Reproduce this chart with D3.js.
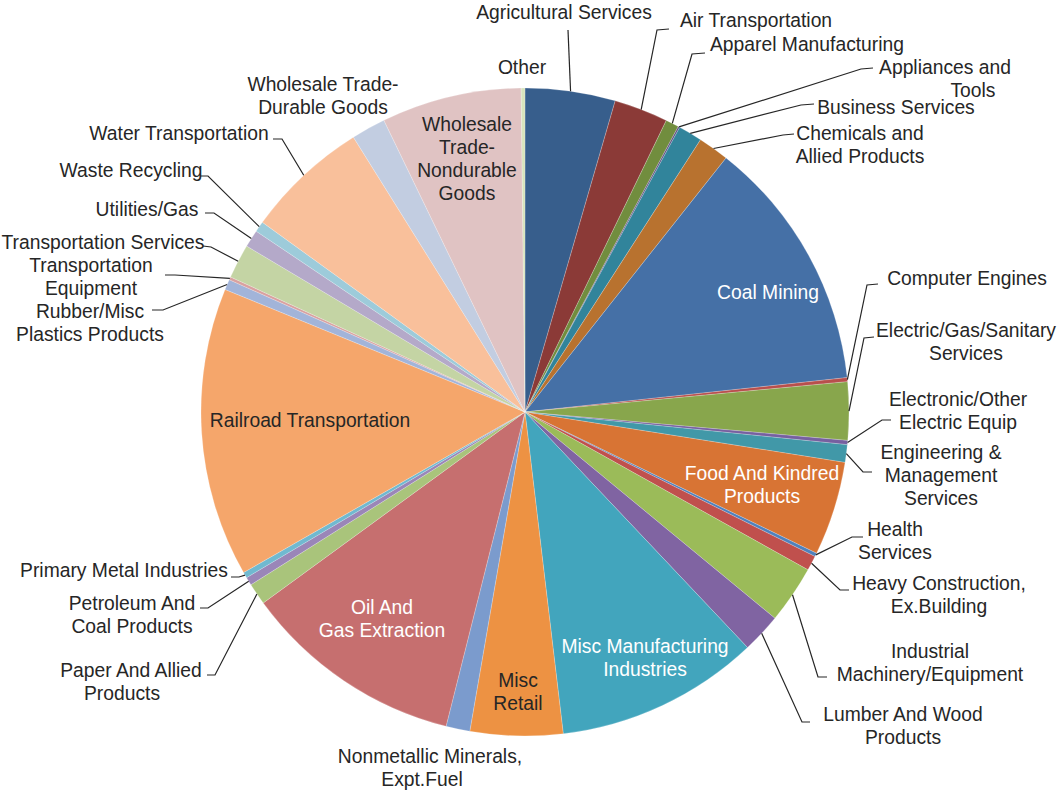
<!DOCTYPE html>
<html>
<head>
<meta charset="utf-8">
<script src="https://cdn.jsdelivr.net/npm/d3@7"></script>
<style>
  body { margin: 0; background: #fff; }
  text { font-family: "Liberation Sans", Arial, sans-serif; font-size: 19.3px; }
</style>
</head>
<body>
<svg id="chart" width="1057" height="790"></svg>
<script>
// ---------------------------------------------------------------
// data (share of total, %), clockwise from 12 o'clock
const categories = [
    'Agricultural Services', 'Air Transportation', 'Apparel Manufacturing', 'Appliances and Tools',
    'Business Services', 'Chemicals and Allied Products', 'Coal Mining', 'Computer Engines',
    'Electric/Gas/Sanitary Services', 'Electronic/Other Electric Equip', 'Engineering & Management Services',
    'Food And Kindred Products', 'Health Services', 'Heavy Construction, Ex.Building',
    'Industrial Machinery/Equipment', 'Lumber And Wood Products', 'Misc Manufacturing Industries',
    'Misc Retail', 'Nonmetallic Minerals, Expt.Fuel', 'Oil And Gas Extraction', 'Paper And Allied Products',
    'Petroleum And Coal Products', 'Primary Metal Industries', 'Railroad Transportation',
    'Rubber/Misc Plastics Products', 'Transportation Equipment', 'Transportation Services',
    'Utilities/Gas', 'Waste Recycling', 'Water Transportation', 'Wholesale Trade-Durable Goods',
    'Wholesale Trade-Nondurable Goods', 'Other'
]

const shares = [
    4.49, 2.69, 0.66, 0.08,
    1.19, 1.54, 12.65, 0.20,
    2.89, 0.21, 0.88,
    4.69, 0.18, 0.74,
    2.88, 1.97, 10.16,
    4.61, 1.19, 11.05, 1.08,
    0.41, 0.29, 14.42,
    0.52, 0.15, 1.71,
    0.87, 0.53, 6.16, 1.71,
    6.98, 0.19
]

const colors = [
    '#375e8c', '#8b3a37', '#718d3e', '#5f4b80',
    '#31849b', '#b8722f', '#4570a6', '#b84f4c',
    '#88a64c', '#7660a0', '#4198a8',
    '#d87434', '#4f81bd', '#c0504d',
    '#9bbb59', '#8064a2', '#42a5bd',
    '#ed9243', '#7b9bcd', '#c66f6f', '#a9c47b',
    '#9a86b8', '#70b9d0', '#f5a66b',
    '#a2b4d9', '#d9a1a0', '#c4d4a4',
    '#b4a9c9', '#9dcbda', '#f9c09b', '#c2cde1',
    '#e0c3c3', '#d7e4bd'
]

// ---------------------------------------------------------------
// label layout (text centre of first line, extra lines, leader elbow points)
const insideLabels = {
    'Coal Mining': { x: 768, y: 292, lines: ['Coal Mining'], fill: '#fff' },
    'Food And Kindred Products': { x: 762, y: 473, lines: ['Food And Kindred', 'Products'], fill: '#fff' },
    'Misc Manufacturing Industries': { x: 645, y: 646, lines: ['Misc Manufacturing', 'Industries'], fill: '#fff' },
    'Misc Retail': { x: 518, y: 680, lines: ['Misc', 'Retail'], fill: '#262626' },
    'Oil And Gas Extraction': { x: 382, y: 607, lines: ['Oil And', 'Gas Extraction'], fill: '#fff' },
    'Railroad Transportation': { x: 310, y: 420, lines: ['Railroad Transportation'], fill: '#262626' },
    'Wholesale Trade-Nondurable Goods': { x: 467, y: 124, lines: ['Wholesale', 'Trade-', 'Nondurable', 'Goods'], fill: '#262626' }
}

const outsideLabels = {
    'Other': { x: 522, y: 67, lines: ['Other'], leader: null },
    'Agricultural Services': { x: 564, y: 12, lines: ['Agricultural Services'], leader: [[568, 30]] },
    'Air Transportation': { x: 756, y: 20, lines: ['Air Transportation'], leader: [[669, 29], [657, 30]] },
    'Apparel Manufacturing': { x: 807, y: 44, lines: ['Apparel Manufacturing'], leader: [[705, 53], [692, 54]] },
    'Appliances and Tools': { x: 945, y: 67, lines: ['Appliances and', 'Tools'], dx: [0, 28], leader: [[873, 68], [861, 69]] },
    'Business Services': { x: 896, y: 107, lines: ['Business Services'], leader: [[814, 104], [801, 105]] },
    'Chemicals and Allied Products': { x: 860, y: 133, lines: ['Chemicals and', 'Allied Products'], leader: [[794, 134], [783, 135]] },
    'Computer Engines': { x: 967, y: 278, lines: ['Computer Engines'], leader: [[878, 284], [867, 285]] },
    'Electric/Gas/Sanitary Services': { x: 966, y: 330, lines: ['Electric/Gas/Sanitary', 'Services'], leader: [[874, 337], [864, 338]] },
    'Electronic/Other Electric Equip': { x: 958, y: 399, lines: ['Electronic/Other', 'Electric Equip'], leader: [[891, 420], [882, 420]] },
    'Engineering & Management Services': { x: 941, y: 452, lines: ['Engineering &', 'Management', 'Services'], leader: [[872, 472], [863, 472]] },
    'Health Services': { x: 895, y: 529, lines: ['Health', 'Services'], leader: [[863, 537], [852, 537]] },
    'Heavy Construction, Ex.Building': { x: 939, y: 583, lines: ['Heavy Construction,', 'Ex.Building'], leader: [[849, 590], [840, 590]] },
    'Industrial Machinery/Equipment': { x: 930, y: 651, lines: ['Industrial', 'Machinery/Equipment'], leader: [[827, 677], [818, 677]] },
    'Lumber And Wood Products': { x: 903, y: 714, lines: ['Lumber And Wood', 'Products'], leader: [[810, 722], [802, 722]] },
    'Nonmetallic Minerals, Expt.Fuel': { x: 430, y: 756, lines: ['Nonmetallic Minerals,', 'Expt.Fuel'], dx: [0, -8], leader: null },
    'Paper And Allied Products': { x: 131, y: 670, lines: ['Paper And Allied', 'Products'], dx: [0, -9], leader: [[207, 675], [215, 675]] },
    'Petroleum And Coal Products': { x: 132, y: 603, lines: ['Petroleum And', 'Coal Products'], leader: [[200, 608], [208, 608]] },
    'Primary Metal Industries': { x: 124, y: 570, lines: ['Primary Metal Industries'], leader: [[231, 577], [239, 577]] },
    'Rubber/Misc Plastics Products': { x: 90, y: 311, lines: ['Rubber/Misc', 'Plastics Products'], leader: [[152, 310], [163, 310]] },
    'Transportation Equipment': { x: 91, y: 265, lines: ['Transportation', 'Equipment'], leader: [[165, 275], [175, 275]] },
    'Transportation Services': { x: 103, y: 242, lines: ['Transportation Services'], leader: [[203, 246], [211, 247]] },
    'Utilities/Gas': { x: 147, y: 209, lines: ['Utilities/Gas'], leader: [[205, 213], [214, 213]] },
    'Waste Recycling': { x: 131, y: 170, lines: ['Waste Recycling'], leader: [[200, 176], [208, 176]] },
    'Water Transportation': { x: 179, y: 133, lines: ['Water Transportation'], leader: [[273, 139], [282, 139]] },
    'Wholesale Trade-Durable Goods': { x: 323, y: 84, lines: ['Wholesale Trade-', 'Durable Goods'], leader: null }
}

// ---------------------------------------------------------------
const width = 1057, height = 790
const cx = 525, cy = 412, radius = 324
const lineHeight = 23

const data = categories.map((c, i) => ({ name: c, share: shares[i], color: colors[i] }))

const pie = d3.pie()
    .sort(null)
    .value(d => d.share)

const arc = d3.arc()
    .innerRadius(0)
    .outerRadius(radius)

const edgeArc = d3.arc()
    .innerRadius(radius)
    .outerRadius(radius)

const svg = d3.select('#chart')

svg.append('rect')
    .attr('width', width)
    .attr('height', height)
    .attr('fill', '#fff')

const arcs = pie(data)

const pieG = svg.append('g')
    .attr('transform', `translate(${cx}, ${cy})`)

pieG.selectAll('path.slice')
    .data(arcs)
    .enter()
        .append('path')
        .attr('class', 'slice')
        .attr('d', arc)
        .attr('fill', d => d.data.color)
        .attr('stroke', '#fff')
        .attr('stroke-width', 0.3)
        .attr('stroke-opacity', 0.7)

// leader lines
const line = d3.line()
const leaderData = arcs.filter(d => outsideLabels[d.data.name] && outsideLabels[d.data.name].leader)

svg.append('g')
    .selectAll('path.leader')
    .data(leaderData)
    .enter()
        .append('path')
        .attr('class', 'leader')
        .attr('d', d => {
            const p = edgeArc.centroid(d)
            const pts = outsideLabels[d.data.name].leader.concat([[p[0] + cx, p[1] + cy]])
            return line(pts)
        })
        .attr('fill', 'none')
        .attr('stroke', '#262626')
        .attr('stroke-width', 1.2)

// labels
function drawLabel(g, lab, fill) {
    const t = g.append('text')
        .attr('text-anchor', 'middle')
        .attr('fill', fill)
    lab.lines.forEach((s, i) => {
        t.append('tspan')
            .attr('x', lab.x + (lab.dx ? lab.dx[i] : 0))
            .attr('y', lab.y + i * lineHeight)
            .attr('dy', '0.35em')
            .text(s)
    })
}

const labelG = svg.append('g')

arcs.forEach(d => {
    const name = d.data.name
    if (insideLabels[name]) drawLabel(labelG, insideLabels[name], insideLabels[name].fill)
    else if (outsideLabels[name]) drawLabel(labelG, outsideLabels[name], '#262626')
})
</script>
</body>
</html>
